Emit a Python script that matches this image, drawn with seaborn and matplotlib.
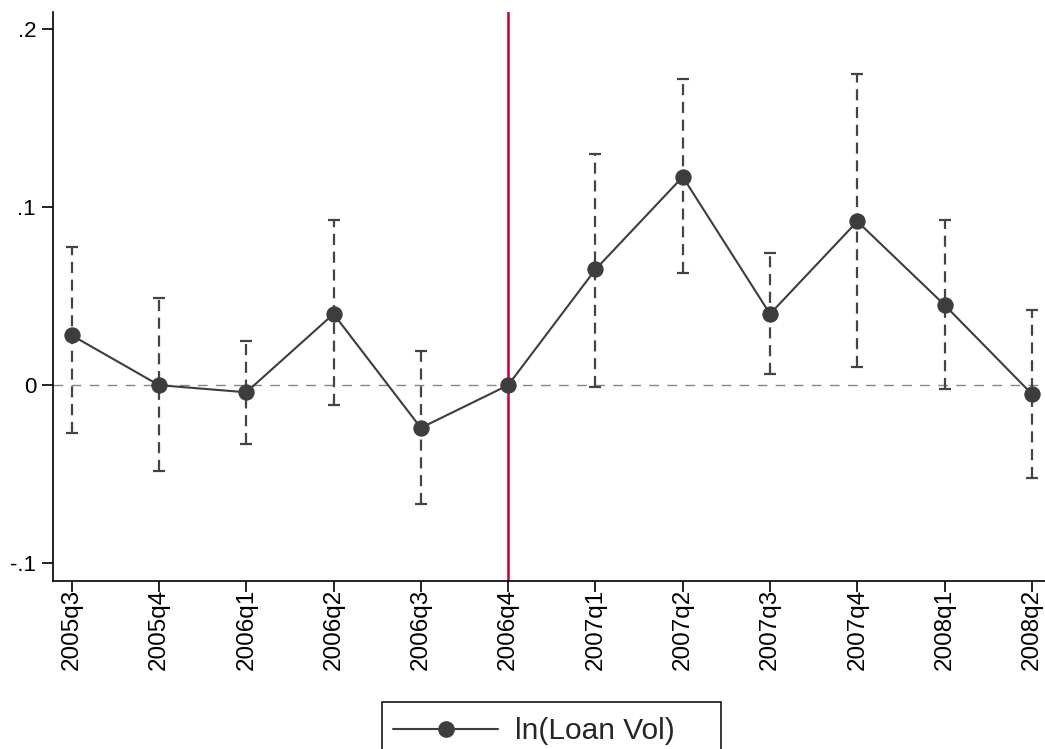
import matplotlib
matplotlib.use("Agg")
import matplotlib.pyplot as plt
import seaborn as sns
import pandas as pd
import numpy as np
from matplotlib.lines import Line2D
from matplotlib.patches import Rectangle

quarters = ["2005q3", "2005q4", "2006q1", "2006q2", "2006q3", "2006q4",
            "2007q1", "2007q2", "2007q3", "2007q4", "2008q1", "2008q2"]
coef = [0.028, 0.000, -0.004, 0.040, -0.024, 0.000,
        0.065, 0.117, 0.040, 0.092, 0.045, -0.005]
ci_low = [-0.027, -0.048, -0.033, -0.011, -0.067, 0.000,
          -0.001, 0.063, 0.006, 0.010, -0.002, -0.052]
ci_high = [0.0775, 0.049, 0.025, 0.093, 0.019, 0.000,
           0.130, 0.172, 0.074, 0.175, 0.093, 0.042]
yticks = [-0.1, 0.0, 0.1, 0.2]
ytick_labels = ["-.1", "0", ".1", ".2"]
legend_label = "ln(Loan Vol)"
event_quarter = "2006q4"

sns.set_theme(style="white")
plt.rcParams["font.family"] = ["Liberation Sans", "DejaVu Sans"]

df = pd.DataFrame({"q": quarters, "x": np.arange(len(quarters)), "coef": coef,
                   "lo": ci_low, "hi": ci_high})

W, H = 1045, 749
fig = plt.figure(figsize=(W / 100, H / 100), dpi=100)
ax = fig.add_axes([53 / W, 1 - 581 / H, 1 - 53 / W, (581 - 12) / H])

dark = "#3d3d3d"
# zero reference line
ax.axhline(0, color="#7f8a88", lw=1.0, ls=(0, (7, 6)), zorder=1)
# event line
ev = quarters.index(event_quarter)
ax.axvline(ev, color="#c4002f", lw=1.8, zorder=2)

# CIs
sub = df[df["hi"] > df["lo"]]
eb = ax.errorbar(sub["x"], sub["coef"],
                 yerr=[sub["coef"] - sub["lo"], sub["hi"] - sub["coef"]],
                 fmt="none", ecolor="#444444", elinewidth=1.6, capsize=4,
                 capthick=1.6, zorder=3)
eb[2][0].set_linestyle((0, (5, 3)))

sns.lineplot(data=df, x="x", y="coef", ax=ax, color=dark, lw=1.5,
             marker="o", markersize=11, markeredgecolor=dark,
             markerfacecolor=dark, zorder=4, legend=False)

ax.set_xlim(-0.214, 11.15)
ax.set_ylim(-0.110, 0.2096)
ax.set_xticks(df["x"])
ax.set_xticklabels(quarters, rotation=90, fontsize=17.5)
ax.set_yticks(yticks)
ax.set_yticklabels(ytick_labels, fontsize=16)
ax.set_xlabel("")
ax.set_ylabel("")
for s in ["top", "right"]:
    ax.spines[s].set_visible(False)
for s in ["left", "bottom"]:
    ax.spines[s].set_color("black")
    ax.spines[s].set_linewidth(1.2)
ax.tick_params(axis="both", direction="out", length=7.7, width=1.2,
               color="black", labelcolor="black", bottom=True, left=True)
ax.tick_params(axis="x", pad=-2)
ax.tick_params(axis="y", pad=4.5)
ax.grid(False)

handle = Line2D([], [], color=dark, lw=1.5, marker="o", markersize=11,
                markerfacecolor=dark, markeredgecolor=dark)
fs = 21.5
leg = fig.legend([handle], [legend_label], loc="upper left",
                 bbox_to_anchor=(382 / W, 1 - 706 / H), borderaxespad=0,
                 fontsize=fs, frameon=False, handlelength=3.5,
                 borderpad=0.38, handletextpad=0.58)
fig.add_artist(Rectangle((382 / W, -0.02), (721 - 382) / W, 0.02 + 1 - 702 / H,
                         transform=fig.transFigure, fill=False,
                         edgecolor="black", lw=1.1))

fig.savefig("out.png", dpi=100, facecolor="white")
